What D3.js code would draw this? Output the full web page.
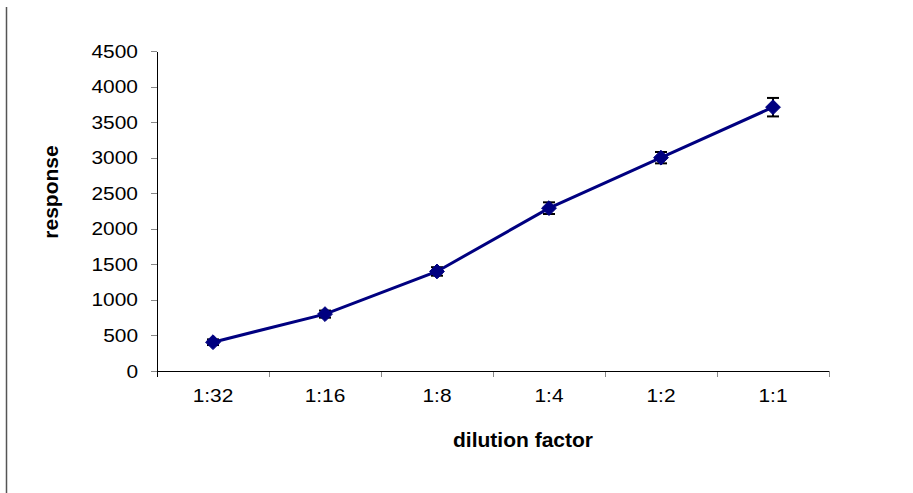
<!DOCTYPE html>
<html>
<head>
<meta charset="utf-8">
<script src="https://cdn.jsdelivr.net/npm/d3@7"></script>
<style>
  body { margin: 0; background: #fff; }
  svg text { font-family: "Liberation Sans", Arial, sans-serif; }
</style>
</head>
<body>
<div id="chart"></div>
<script>
const categories = ["1:32", "1:16", "1:8", "1:4", "1:2", "1:1"];
const responses = [405, 800, 1400, 2290, 3000, 3710];
const errors = [40, 50, 60, 82, 80, 130];
const yTicks = [0, 500, 1000, 1500, 2000, 2500, 3000, 3500, 4000, 4500];

const W = 913;
const H = 493;
const PLOT = { LEFT: 157, RIGHT: 829, TOP: 51, BOTTOM: 371 };
const lineColor = "#000080";

// the original picture is slightly stretched sideways
function widen(sel, k) {
  sel.attr("textLength", function () {
    return this.getComputedTextLength() * k;
  }).attr("lengthAdjust", "spacingAndGlyphs");
}

const svg = d3.select("#chart")
  .append("svg")
  .attr("width", W)
  .attr("height", H);

// frame line on the left edge
svg.append("line")
  .attr("x1", 6.5).attr("x2", 6.5)
  .attr("y1", 7).attr("y2", H)
  .attr("stroke", "#555")
  .attr("stroke-width", 1.5);

const x = d3.scaleBand()
  .domain(categories)
  .range([PLOT.LEFT, PLOT.RIGHT]);

const y = d3.scaleLinear()
  .domain([0, 4500])
  .range([PLOT.BOTTOM, PLOT.TOP]);

// y axis
const yAxis = svg.append("g")
  .attr("transform", `translate(${PLOT.LEFT},0)`)
  .call(d3.axisLeft(y).tickValues(yTicks).tickFormat(d3.format("d"))
    .tickSize(6).tickSizeOuter(0).tickPadding(13));
yAxis.select(".domain").attr("stroke", "#000").attr("shape-rendering", "crispEdges");
yAxis.selectAll(".tick line").attr("stroke", "#888").attr("shape-rendering", "crispEdges");
yAxis.selectAll("text")
  .attr("font-size", 19)
  .attr("fill", "#000")
  .call(widen, 1.1);

// x axis: labels at band centres, tick marks between categories
const xAxis = svg.append("g")
  .attr("transform", `translate(0,${PLOT.BOTTOM})`)
  .call(d3.axisBottom(x).tickSize(0).tickPadding(17.5));
xAxis.select(".domain").remove();
xAxis.selectAll("text")
  .attr("font-size", 19)
  .attr("fill", "#000")
  .call(widen, 1.1);

const bounds = categories.map((c) => x(c)).concat([x.range()[1]]);
svg.append("g")
  .selectAll("line")
  .data(bounds)
  .join("line")
  .attr("x1", (d) => d).attr("x2", (d) => d)
  .attr("y1", PLOT.BOTTOM).attr("y2", PLOT.BOTTOM + 6)
  .attr("stroke", (d, i) => (i === 0 ? "#000" : "#888"))
  .attr("shape-rendering", "crispEdges");

svg.append("line")
  .attr("x1", PLOT.LEFT).attr("x2", PLOT.RIGHT)
  .attr("y1", PLOT.BOTTOM).attr("y2", PLOT.BOTTOM)
  .attr("stroke", "#000")
  .attr("shape-rendering", "crispEdges");

// axis titles
svg.append("text")
  .attr("x", 523)
  .attr("y", 447)
  .attr("text-anchor", "middle")
  .attr("font-size", 20)
  .attr("font-weight", "bold")
  .text("dilution factor")
  .call(widen, 1.05);

svg.append("text")
  .attr("transform", "translate(57.5,192) rotate(-90)")
  .attr("text-anchor", "middle")
  .attr("font-size", 20)
  .attr("font-weight", "bold")
  .text("response")
  .call(widen, 1.05);

const points = categories.map((c, i) => ({
  cat: c,
  value: responses[i],
  err: errors[i],
}));
const cx = (d) => x(d.cat) + x.bandwidth() / 2;

// error bars
const eb = svg.append("g")
  .attr("stroke", "#000")
  .attr("stroke-width", 2);
eb.selectAll(".stem")
  .data(points)
  .join("line")
  .attr("class", "stem")
  .attr("x1", cx).attr("x2", cx)
  .attr("y1", (d) => y(d.value - d.err))
  .attr("y2", (d) => y(d.value + d.err));
eb.selectAll(".cap-top")
  .data(points)
  .join("line")
  .attr("class", "cap-top")
  .attr("x1", (d) => cx(d) - 6).attr("x2", (d) => cx(d) + 6)
  .attr("y1", (d) => y(d.value + d.err))
  .attr("y2", (d) => y(d.value + d.err));
eb.selectAll(".cap-bot")
  .data(points)
  .join("line")
  .attr("class", "cap-bot")
  .attr("x1", (d) => cx(d) - 6).attr("x2", (d) => cx(d) + 6)
  .attr("y1", (d) => y(d.value - d.err))
  .attr("y2", (d) => y(d.value - d.err));

// line
const line = d3.line()
  .x(cx)
  .y((d) => y(d.value));
svg.append("path")
  .datum(points)
  .attr("d", line)
  .attr("fill", "none")
  .attr("stroke", lineColor)
  .attr("stroke-width", 3);

// diamond markers
svg.append("g")
  .selectAll("path")
  .data(points)
  .join("path")
  .attr("d", d3.symbol(d3.symbolDiamond2, 140))
  .attr("transform", (d) => `translate(${cx(d)},${y(d.value)})`)
  .attr("fill", lineColor)
  .attr("stroke", lineColor)
  .attr("stroke-width", 1)
  .attr("stroke-linejoin", "round");
</script>
</body>
</html>
